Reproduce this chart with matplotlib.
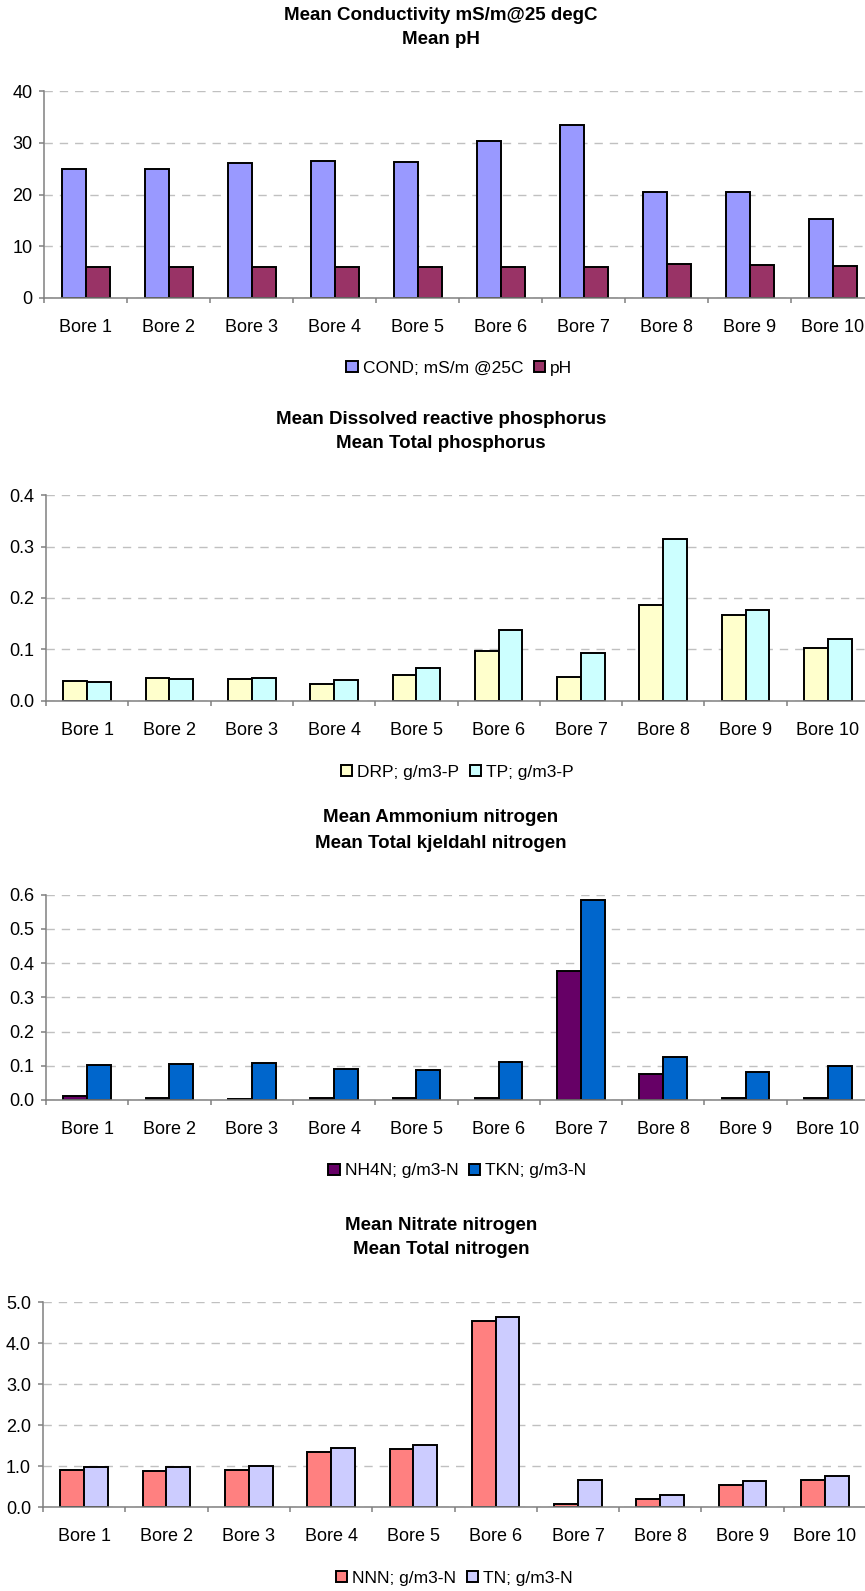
import numpy as np
import matplotlib
matplotlib.use("Agg")
import matplotlib.pyplot as plt
from matplotlib.ticker import FormatStrFormatter, FixedLocator

plt.rcParams['font.family'] = ['Liberation Sans', 'DejaVu Sans']

bores = ["Bore %d" % i for i in range(1, 11)]

# conductivity / pH
cond = [24.9, 25.0, 26.1, 26.4, 26.3, 30.3, 33.4, 20.5, 20.5, 15.3]
ph = [6.0, 6.0, 5.9, 6.0, 6.0, 5.9, 6.05, 6.5, 6.3, 6.2]

# phosphorus, g/m3-P
drp = [0.039, 0.044, 0.042, 0.033, 0.050, 0.096, 0.047, 0.186, 0.166, 0.102]
tp = [0.037, 0.042, 0.044, 0.041, 0.064, 0.138, 0.092, 0.314, 0.176, 0.121]

# nitrogen, g/m3-N
nh4n = [0.013, 0.005, 0.004, 0.006, 0.005, 0.005, 0.377, 0.076, 0.005, 0.006]
tkn = [0.102, 0.105, 0.109, 0.091, 0.089, 0.112, 0.584, 0.125, 0.081, 0.100]
nnn = [0.90, 0.89, 0.91, 1.35, 1.42, 4.55, 0.07, 0.195, 0.55, 0.67]
tn = [0.99, 0.99, 1.01, 1.44, 1.51, 4.65, 0.67, 0.31, 0.65, 0.77]

W, H = 865, 1591
fig = plt.figure(figsize=(W / 100, H / 100), dpi=100)

charts = [
    dict(title=["Mean Conductivity mS/m@25 degC", "Mean pH"], ty=[15, 40],
         box=(44.3, 91, 298, 83.0), series=[cond, ph],
         labels=["COND; mS/m @25C", "pH"], colors=["#9999FF", "#993366"],
         ymax=40, step=10, fmt="%d", leg=368),
    dict(title=["Mean Dissolved reactive phosphorus", "Mean Total phosphorus"], ty=[419, 444],
         box=(46, 495.3, 700.7, 82.3), series=[drp, tp],
         labels=["DRP; g/m3-P", "TP; g/m3-P"], colors=["#FFFFCC", "#CCFFFF"],
         ymax=0.4, step=0.1, fmt="%.1f", leg=772),
    dict(title=["Mean Ammonium nitrogen", "Mean Total kjeldahl nitrogen"], ty=[818, 843],
         box=(46, 894.7, 1100, 82.3), series=[nh4n, tkn],
         labels=["NH4N; g/m3-N", "TKN; g/m3-N"], colors=["#660066", "#0066CC"],
         ymax=0.6, step=0.1, fmt="%.1f", leg=1171),
    dict(title=["Mean Nitrate nitrogen", "Mean Total nitrogen"], ty=[1226, 1250],
         box=(43, 1302.3, 1507.3, 82.3), series=[nnn, tn],
         labels=["NNN; g/m3-N", "TN; g/m3-N"], colors=["#FF8080", "#CCCCFF"],
         ymax=5.0, step=1.0, fmt="%.1f", leg=1578),
]

x = np.arange(10) + 0.5
bw = 0.289
fs = 13

for c in charts:
    left, top, bottom, cw = c["box"]
    ax = fig.add_axes([left / W, 1 - bottom / H, cw * 10 / W, (bottom - top) / H])
    for k, (vals, lab, col) in enumerate(zip(c["series"], c["labels"], c["colors"])):
        ax.bar(x + (k - 0.5) * bw, vals, bw, color=col, edgecolor="black",
               linewidth=1.4, label=lab, zorder=3)

    ax.set_xlim(0, 10)
    ax.set_ylim(0, c["ymax"])
    ax.set_yticks(np.arange(0, c["ymax"] + c["step"] / 2, c["step"]))
    ax.yaxis.set_major_formatter(FormatStrFormatter(c["fmt"]))
    ax.set_xticks(x)
    ax.set_xticklabels(bores)
    ax.xaxis.set_minor_locator(FixedLocator(np.arange(0, 11)))
    ax.tick_params(axis="x", which="major", length=0, pad=15, labelsize=fs)
    ax.tick_params(axis="x", which="minor", length=3.6, width=1.1, color="#808080", direction="out")
    ax.tick_params(axis="y", length=3.6, width=1.1, color="#808080", pad=5, labelsize=fs)

    ax.yaxis.grid(True, color="#C0C0C0", linestyle=(0, (6, 5)), linewidth=1, zorder=0)
    ax.set_axisbelow(True)
    for s in ["top", "right"]:
        ax.spines[s].set_visible(False)
    for s in ["left", "bottom"]:
        ax.spines[s].set_color("#808080")
        ax.spines[s].set_linewidth(1.1)
    ax.spines["bottom"].set_zorder(4)

    for line, ty in zip(c["title"], c["ty"]):
        fig.text(441 / W, 1 - ty / H, line, ha="center", va="center",
                 fontsize=13.5, fontweight="bold")

    ly = -(c["leg"] - bottom) / (bottom - top)
    ax.legend(loc="center", bbox_to_anchor=(0.5, ly), ncol=2, frameon=False,
              fontsize=fs - 0.5, handlelength=0.65, handleheight=0.65,
              handletextpad=0.3, columnspacing=0.6, borderaxespad=0)

fig.savefig("out.png", dpi=100)
